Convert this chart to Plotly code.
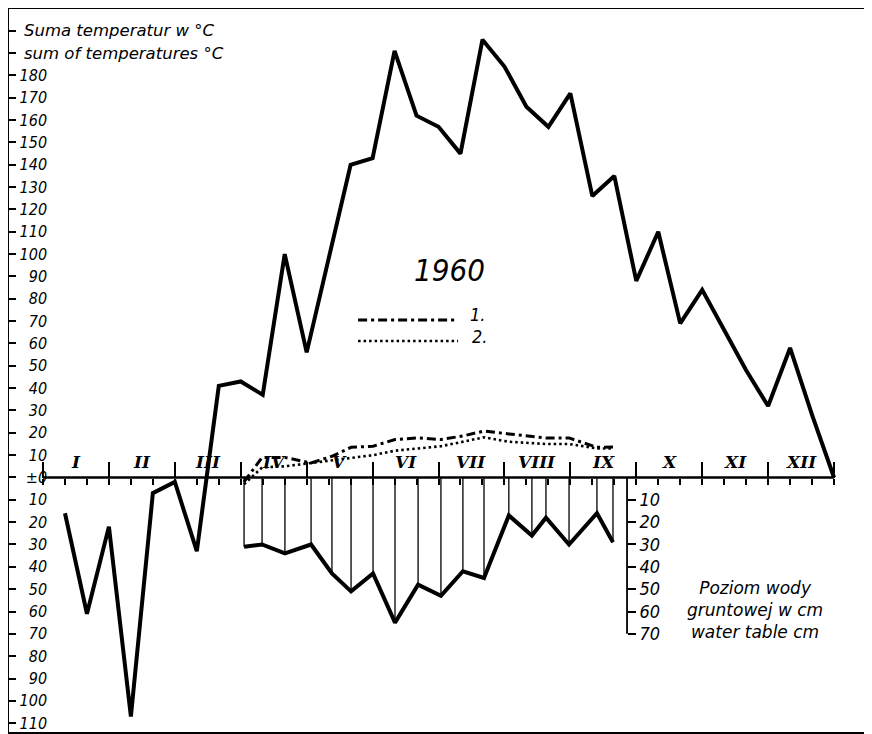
import plotly.graph_objects as go

# sum of temperatures for each decade (10-day period), decade 1 = end of first decade of January
decades = list(range(1, 37))
temp_sum = [-16, -61, -22, -107, -7, -2, -33, 41, 43, 37, 100, 56, 98, 140, 143, 191,
            162, 157, 145, 196, 184, 166, 157, 172, 126, 135, 88, 110, 69, 84, 66, 48,
            32, 58, 28, 0]

# groundwater observations (position in decades from 1 Jan), depth in cm
water_pos = [9.15, 9.97, 11.01, 12.20, 13.15, 14.02, 15.02, 16.02, 17.07, 18.11,
             19.11, 20.07, 21.20, 22.25, 22.89, 23.94, 25.21, 25.94]
water_depth = [-31, -30, -34, -30, -43, -51, -43, -65, -48, -53, -42, -45, -17, -26,
               -18, -30, -16, -29]
series_1 = [-2, 9, 9, 6.5, 9.5, 13.5, 14, 17, 17.7, 17, 18.6, 20.8, 19.5, 18.5, 17.7,
            17.7, 13.5, 13.7]
series_2 = [-3, 4.5, 5, 6.5, 7.8, 9, 10, 12, 13, 14, 16, 18, 16, 15.4, 15, 15, 13, 13]

months = ['I', 'II', 'III', 'IV', 'V', 'VI', 'VII', 'VIII', 'IX', 'X', 'XI', 'XII']

left_ticks = list(range(-110, 190, 10))
left_text = [str(abs(v)) if v != 0 else '±0' for v in left_ticks]
water_ticks = list(range(-10, -80, -10))
water_text = [str(-v) for v in water_ticks]

NUM_FONT = "Liberation Sans Narrow, DejaVu Sans Condensed, Arial Narrow, sans-serif"
TXT_FONT = "DejaVu Sans, Liberation Sans, sans-serif"
ROMAN_FONT = "DejaVu Serif, Liberation Serif, serif"

# the page body has an 8px margin, so the figure starts at (8, 8)
X_RANGE = [-1.593, 37.455]
Y_RANGE = [-114.4, 210.2]
ZERO_POS = 0.3524

fig = go.Figure()

hatch_x, hatch_y = [], []
for x, d in zip(water_pos, water_depth):
    hatch_x += [x, x, None]
    hatch_y += [0, d, None]

fig.add_trace(go.Scatter(x=hatch_x, y=hatch_y, mode='lines', xaxis='x', yaxis='y2',
                         line=dict(color='black', width=1.3), hoverinfo='skip'))
fig.add_trace(go.Scatter(x=water_pos, y=water_depth, mode='lines', name='water table',
                         xaxis='x', yaxis='y2', line=dict(color='black', width=4)))
fig.add_trace(go.Scatter(x=water_pos, y=series_1, mode='lines', name='1.',
                         line=dict(color='black', width=3, dash='9px,4px,3px,4px')))
fig.add_trace(go.Scatter(x=water_pos, y=series_2, mode='lines', name='2.',
                         line=dict(color='black', width=2.6, dash='2.5px,3px')))
fig.add_trace(go.Scatter(x=decades, y=temp_sum, mode='lines', name='suma temperatur',
                         xaxis='x2', yaxis='y3', line=dict(color='black', width=4)))

shapes = [
    dict(type='rect', xref='paper', yref='paper', x0=0, y0=0, x1=1, y1=1,
         line=dict(color='black', width=2)),
    dict(type='line', xref='x', yref='y', x0=0, x1=36, y0=0, y1=0,
         line=dict(color='black', width=2.5)),
    dict(type='line', xref='x', yref='y', x0=26.58, x1=26.58, y0=0, y1=-70,
         line=dict(color='black', width=1.8)),
    dict(type='line', xref='x', yref='y', x0=14.34, x1=18.89, y0=70.5, y1=70.5,
         line=dict(color='black', width=3, dash='9px,4px,3px,4px')),
    dict(type='line', xref='x', yref='y', x0=14.34, x1=18.89, y0=61.1, y1=61.1,
         line=dict(color='black', width=2.6, dash='2.5px,3px')),
]

annotations = [
    dict(xref='paper', yref='y', x=0.0163, y=200, xanchor='left', yanchor='middle',
         text='Suma temperatur w °C', showarrow=False,
         font=dict(family=TXT_FONT, size=16.5, style='italic', color='black')),
    dict(xref='paper', yref='y', x=0.0163, y=190, xanchor='left', yanchor='middle',
         text='sum of temperatures °C', showarrow=False,
         font=dict(family=TXT_FONT, size=16.5, style='italic', color='black')),
    dict(xref='x', yref='y', x=18.52, y=92.9, text='1960', showarrow=False,
         font=dict(family=NUM_FONT, size=31, style='italic', color='black')),
    dict(xref='x', yref='y', x=19.34, y=73, xanchor='left', text='1.', showarrow=False,
         font=dict(family=NUM_FONT, size=18, style='italic', color='black')),
    dict(xref='x', yref='y', x=19.44, y=63.2, xanchor='left', text='2.', showarrow=False,
         font=dict(family=NUM_FONT, size=18, style='italic', color='black')),
    dict(xref='x', yref='y', x=32.4, y=-59.3, text='Poziom wody<br>gruntowej w cm<br>water table cm',
         showarrow=False, align='center',
         font=dict(family=TXT_FONT, size=17, style='italic', color='black')),
]
for i, m in enumerate(months):
    annotations.append(dict(xref='x', yref='y', x=3 * i + 1.5, y=7, text=m, showarrow=False,
                            yanchor='middle',
                            font=dict(family=ROMAN_FONT, size=17, style='italic',
                                      weight='bold', color='black')))

axis_common = dict(showgrid=False, zeroline=False, showline=False, automargin=False)

fig.update_layout(
    width=864, height=726,
    margin=dict(l=0, r=6, t=0, b=1),
    paper_bgcolor='white', plot_bgcolor='white',
    showlegend=False,
    xaxis=dict(range=X_RANGE, domain=[0, 1], anchor='free', position=ZERO_POS,
               ticks='outside', ticklen=6, tickwidth=1.5, tickcolor='black',
               tickvals=list(range(0, 37)), showticklabels=False, **axis_common),
    xaxis2=dict(range=X_RANGE, overlaying='x', anchor='free', position=ZERO_POS, side='top',
                ticks='outside', ticklen=16, tickwidth=1.5, tickcolor='black',
                tickvals=list(range(0, 37, 3)), showticklabels=False, **axis_common),
    yaxis=dict(range=Y_RANGE, domain=[0, 1], anchor='free', position=0,
               ticks='inside', ticklen=7, tickwidth=1.5, tickcolor='black',
               tickvals=list(range(-110, 201, 10)), showticklabels=False, **axis_common),
    yaxis3=dict(range=Y_RANGE, overlaying='y', anchor='free', position=0.0455, side='left',
                ticks='', tickvals=left_ticks, ticktext=left_text,
                tickfont=dict(family=NUM_FONT, size=16, style='italic', color='black'),
                **axis_common),
    yaxis2=dict(range=Y_RANGE, overlaying='y', anchor='free', position=0.7214, side='right',
                ticks='outside', ticklen=8, tickwidth=1.5, tickcolor='black',
                tickvals=water_ticks, ticktext=water_text,
                tickfont=dict(family=NUM_FONT, size=18, style='italic', color='black'),
                **axis_common),
    shapes=shapes,
    annotations=annotations,
)

fig.write_html("out.html")
